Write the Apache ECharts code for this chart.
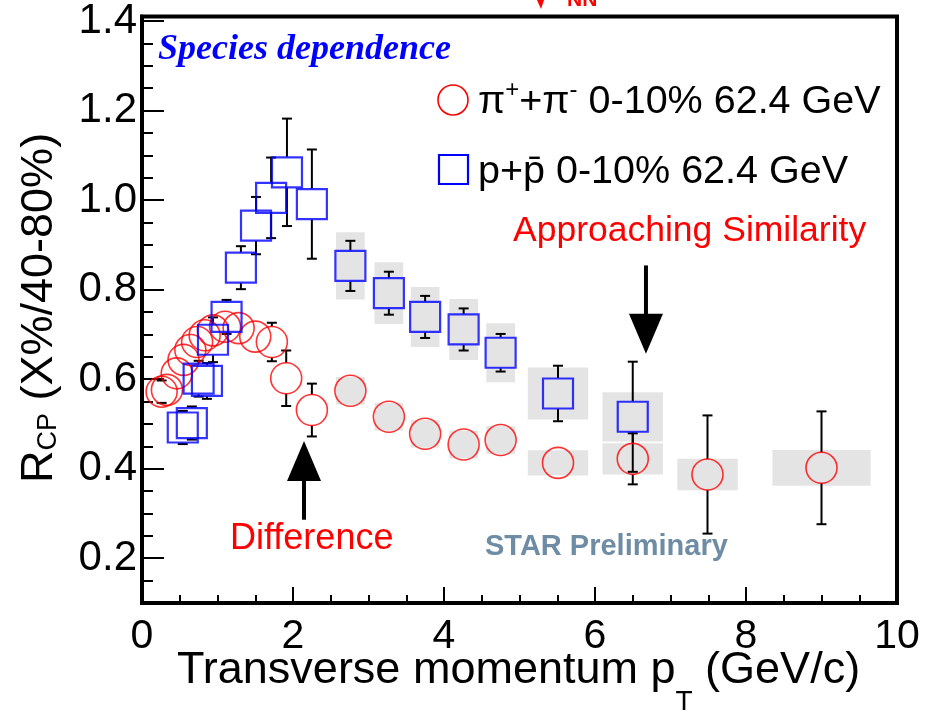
<!DOCTYPE html>
<html>
<head>
<meta charset="utf-8">
<script src="https://cdn.jsdelivr.net/npm/echarts@6/dist/echarts.min.js"></script>
<style>
  html, body { margin: 0; padding: 0; background: #ffffff; }
  #chart { width: 927px; height: 714px; }
</style>
</head>
<body>
<div id="chart"></div>
<script>
// R_CP (0-10% / 40-80%) vs transverse momentum, Au+Au 62.4 GeV

// pi+ + pi-
const pionPt   = [0.26, 0.33, 0.46, 0.55, 0.64, 0.73, 0.83, 0.94, 1.10, 1.28, 1.50, 1.72, 1.91, 2.25, 2.76, 3.27, 3.75, 4.26, 4.75, 5.51, 6.50, 7.49, 9.00];
const pionRcp  = [0.572, 0.576, 0.613, 0.643, 0.665, 0.683, 0.698, 0.709, 0.717, 0.714, 0.695, 0.683, 0.602, 0.531, 0.574, 0.516, 0.478, 0.454, 0.464, 0.413, 0.422, 0.387, 0.402];
const pionStat = [0.025, 0.020, 0.020, 0.020, 0.020, 0.020, 0.020, 0.020, 0.020, 0.020, 0.020, 0.043, 0.062, 0.059, 0.010, 0.010, 0.010, 0.010, 0.010, 0.010, 0.057, 0.132, 0.126];
const pionSys  = [0, 0, 0, 0, 0, 0, 0, 0, 0, 0, 0, 0, 0, 0, 0.031, 0.031, 0.031, 0.031, 0.031, 0.028, 0.035, 0.035, 0.040];
const pionBinHalf = [0, 0, 0, 0, 0, 0, 0, 0, 0, 0, 0, 0, 0, 0, 0.19, 0.19, 0.19, 0.19, 0.19, 0.40, 0.40, 0.40, 0.65];

// p + pbar
const protonPt   = [0.54, 0.66, 0.75, 0.86, 0.94, 1.12, 1.31, 1.51, 1.71, 1.92, 2.25, 2.76, 3.27, 3.75, 4.26, 4.75, 5.51, 6.50];
const protonRcp  = [0.492, 0.502, 0.601, 0.596, 0.688, 0.739, 0.849, 0.943, 1.005, 1.062, 0.991, 0.853, 0.792, 0.739, 0.711, 0.659, 0.568, 0.516];
const protonStat = [0.037, 0.037, 0.040, 0.040, 0.050, 0.038, 0.048, 0.064, 0.090, 0.120, 0.122, 0.056, 0.048, 0.047, 0.047, 0.042, 0.062, 0.123];
const protonSys  = [0, 0, 0, 0, 0, 0, 0, 0, 0, 0, 0, 0.075, 0.069, 0.067, 0.068, 0.066, 0.058, 0.055];
const protonBinHalf = [0, 0, 0, 0, 0, 0, 0, 0, 0, 0, 0, 0.19, 0.19, 0.19, 0.19, 0.19, 0.40, 0.40];

// axis ticks
const yMajorTicks = [0.2, 0.4, 0.6, 0.8, 1.0, 1.2, 1.4];

// annotation arrows: pT, tail, tip
const arrowPt   = [2.146, 6.675];
const arrowTail = [0.286, 0.854];
const arrowTip  = [0.462, 0.657];

const SANS = 'Liberation Sans';
const SERIF = 'Liberation Serif';
const MARK_HALF = 15.5;

const zip = (...cols) => cols[0].map((_, i) => cols.map(c => c[i]));

const pionPts = zip(pionPt, pionRcp);
const protonPts = zip(protonPt, protonRcp);
const errData = zip(pionPt, pionRcp, pionStat).concat(zip(protonPt, protonRcp, protonStat));
const sysData = zip(pionPt, pionRcp, pionSys, pionBinHalf)
  .concat(zip(protonPt, protonRcp, protonSys, protonBinHalf))
  .filter(d => d[2] > 0);
const arrowData = zip(arrowPt, arrowTail, arrowTip);

// text measuring for multi-piece labels (sub/superscripts)
const mctx = document.createElement('canvas').getContext('2d');
function measure(text, size, weight, style, family) {
  mctx.font = `${style || 'normal'} ${weight || 'normal'} ${size}px "${family || SANS}"`;
  return mctx.measureText(text).width;
}
function chain(pieces, x0, y0, fill) {
  let x = x0;
  return pieces.map(p => {
    const el = {
      type: 'text', x: x, y: y0 + (p.dy || 0),
      style: {
        text: p.text, fill: fill, fontSize: p.size, fontFamily: SANS,
        align: 'left', verticalAlign: 'middle', textAlign: 'left', textVerticalAlign: 'middle'
      }
    };
    x += measure(p.text, p.size);
    return el;
  });
}
function label(text, x, y, size, fill, extra) {
  return {
    type: 'text', x: x, y: y, z: 10,
    style: Object.assign({
      text: text, fill: fill, fontSize: size, fontFamily: SANS,
      align: 'left', verticalAlign: 'middle', textAlign: 'left', textVerticalAlign: 'middle'
    }, extra || {})
  };
}

const chart = echarts.init(document.getElementById('chart'), null, { renderer: 'canvas' });

const option = {
  animation: false,
  backgroundColor: '#ffffff',
  grid: {
    left: 142, right: 30, top: 14, bottom: 111,
    show: true, borderColor: '#000', borderWidth: 4, backgroundColor: 'transparent'
  },
  xAxis: {
    type: 'value', min: 0, max: 10, interval: 2,
    axisLine: { show: true, onZero: false, lineStyle: { color: '#000', width: 4 } },
    axisTick: { show: true, inside: true, length: 16, lineStyle: { color: '#000', width: 2 } },
    minorTick: { show: true, splitNumber: 4, length: 8, lineStyle: { color: '#000', width: 2 } },
    splitLine: { show: false },
    minorSplitLine: { show: false },
    axisLabel: { fontSize: 41, color: '#000', fontFamily: SANS, margin: 13 }
  },
  yAxis: [
    {
      type: 'value', min: 0.1, max: 1.41,
      axisLine: { show: true, onZero: false, lineStyle: { color: '#000', width: 4 } },
      axisTick: { show: true, inside: true, length: 22, customValues: yMajorTicks, lineStyle: { color: '#000', width: 2 } },
      axisLabel: {
        fontSize: 42, color: '#000', fontFamily: SANS, margin: 5,
        customValues: yMajorTicks, formatter: v => v.toFixed(1)
      },
      splitLine: { show: false }
    },
    {
      type: 'value', min: 0.1, max: 1.41, interval: 0.05, position: 'left',
      axisLine: { show: false },
      axisTick: { show: true, inside: true, length: 11, lineStyle: { color: '#000', width: 2 } },
      axisLabel: { show: false },
      splitLine: { show: false }
    }
  ],
  series: [
    {
      name: 'systematic', type: 'custom', z: 1, data: sysData,
      renderItem: (params, api) => {
        const x = api.value(0), y = api.value(1), s = api.value(2), hw = api.value(3);
        const a = api.coord([x - hw, y + s]);
        const b = api.coord([x + hw, y - s]);
        return {
          type: 'rect',
          shape: { x: a[0], y: a[1], width: b[0] - a[0], height: b[1] - a[1] },
          style: { fill: '#e4e4e4' }
        };
      }
    },
    {
      name: 'statistical', type: 'custom', z: 2, data: errData,
      renderItem: (params, api) => {
        const x = api.value(0), y = api.value(1), e = api.value(2);
        const c = api.coord([x, y]);
        const hi = api.coord([x, y + e]);
        const lo = api.coord([x, y - e]);
        const st = { stroke: '#000', lineWidth: 2 };
        const kids = [];
        const len = c[1] - hi[1];
        if (len > MARK_HALF) {
          kids.push({ type: 'line', shape: { x1: c[0], y1: c[1] - MARK_HALF, x2: c[0], y2: hi[1] }, style: st });
          kids.push({ type: 'line', shape: { x1: c[0], y1: c[1] + MARK_HALF, x2: c[0], y2: lo[1] }, style: st });
        }
        if (len >= 10) {
          kids.push({ type: 'line', shape: { x1: c[0] - 5, y1: hi[1], x2: c[0] + 5, y2: hi[1] }, style: st });
          kids.push({ type: 'line', shape: { x1: c[0] - 5, y1: lo[1], x2: c[0] + 5, y2: lo[1] }, style: st });
        }
        return { type: 'group', children: kids };
      }
    },
    {
      name: 'π⁺+π⁻ 0-10% 62.4 GeV', type: 'scatter', z: 3, data: pionPts,
      symbol: 'circle', symbolSize: 31,
      itemStyle: { color: 'rgba(0,0,0,0)', borderColor: '#ff0000', borderWidth: 1.6 }
    },
    {
      name: 'p+p̄ 0-10% 62.4 GeV', type: 'scatter', z: 3, data: protonPts,
      symbol: 'rect', symbolSize: 30,
      itemStyle: { color: 'rgba(0,0,0,0)', borderColor: '#0000ff', borderWidth: 2.2 }
    },
    {
      name: 'arrows', type: 'custom', z: 4, data: arrowData,
      renderItem: (params, api) => {
        const x = api.value(0);
        const tail = api.coord([x, api.value(1)]);
        const tip = api.coord([x, api.value(2)]);
        const dir = tip[1] > tail[1] ? 1 : -1;
        const head = 40, half = 17;
        const base = tip[1] - dir * head;
        return {
          type: 'group',
          children: [
            { type: 'line', shape: { x1: tail[0], y1: tail[1], x2: tip[0], y2: base + dir * 2 }, style: { stroke: '#000', lineWidth: 4 } },
            { type: 'polygon', shape: { points: [[tip[0], tip[1]], [tip[0] - half, base], [tip[0] + half, base]] }, style: { fill: '#000' } }
          ]
        };
      }
    }
  ],
  graphic: [
    // label cut at the top edge
    label('NN', 567, 11, 21, '#ff0000', { fontWeight: 'bold', verticalAlign: 'bottom', textVerticalAlign: 'bottom' }),
    { type: 'polygon', z: 10, shape: { points: [[537, 0], [544, 0], [541, 9]] }, style: { fill: '#ff0000' } },

    label('Species dependence', 158, 50, 36, '#0000ff', { fontFamily: SERIF, fontWeight: 'bold', fontStyle: 'italic' }),

    // legend
    { type: 'circle', z: 10, shape: { cx: 453, cy: 100, r: 15 }, style: { fill: 'none', stroke: '#ff0000', lineWidth: 1.6 } },
    { type: 'group', z: 10, children: chain([
      { text: 'π', size: 39.5 },
      { text: '+', size: 24, dy: -12 },
      { text: '+π', size: 39.5 },
      { text: '-', size: 24, dy: -12 },
      { text: ' 0-10% 62.4 GeV', size: 39.5 }
    ], 478, 102, '#000') },
    { type: 'rect', z: 10, shape: { x: 439, y: 155, width: 29, height: 29 }, style: { fill: 'none', stroke: '#0000ff', lineWidth: 2.2 } },
    label('p+p\u0304 0-10% 62.4 GeV', 478, 172, 39.5, '#000'),

    label('Approaching Similarity', 513, 231, 35.5, '#ff0000'),
    label('Difference', 230, 539, 36, '#ff0000'),
    label('STAR Preliminary', 485, 547, 29, '#6f8ca5', { fontWeight: 'bold' }),

    // axis titles
    { type: 'group', z: 10, children: chain([
      { text: 'Transverse momentum p', size: 45 },
      { text: 'T', size: 28, dy: 31 },
      { text: ' (GeV/c)', size: 45 }
    ], 177, 671, '#000') },
    { type: 'group', z: 10, x: 40, y: 483, rotation: Math.PI / 2, children: chain([
      { text: 'R', size: 45 },
      { text: 'CP', size: 27, dy: 9 },
      { text: ' (X%/40-80%)', size: 45 }
    ], 0, 0, '#000') }
  ]
};

chart.setOption(option);
</script>
</body>
</html>
